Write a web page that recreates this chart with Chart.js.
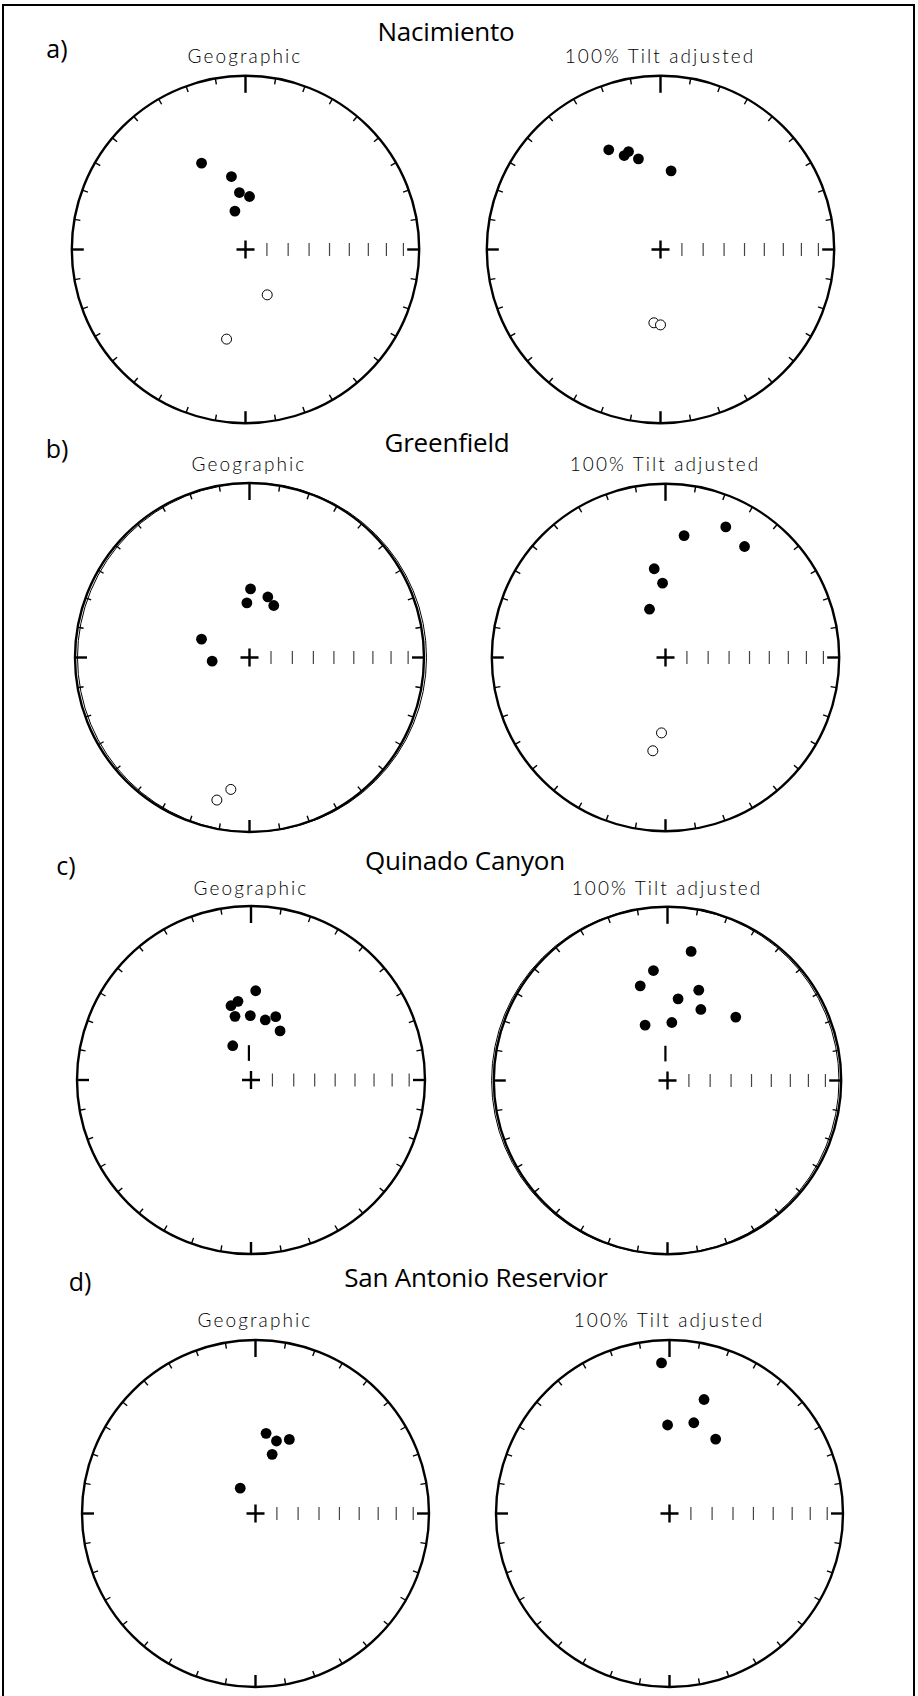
<!DOCTYPE html>
<html>
<head>
<meta charset="utf-8">
<script src="https://cdn.jsdelivr.net/npm/chart.js@4.4.1/dist/chart.umd.min.js"></script>
<style>
  html, body { margin: 0; padding: 0; background: #fff; }
  body { width: 918px; height: 1696px; position: relative; overflow: hidden; }
  #frame { position: absolute; left: 2px; top: 4px; width: 913px; height: 1720px;
           border: 2px solid #000; box-sizing: border-box; }
  .site { position: absolute; font-family: "Open Sans", sans-serif; font-size: 26px;
          color: #000; transform: translate(-50%, -50%); white-space: nowrap; line-height: 1;
          letter-spacing: -0.2px; }
  .tag  { position: absolute; font-family: "Open Sans", sans-serif; font-size: 25px;
          color: #000; transform: translate(-50%, -50%); line-height: 1; }
  .sub  { position: absolute; font-family: Lato, sans-serif; font-weight: 300; font-size: 19px;
          letter-spacing: 2.1px; color: #000; transform: translate(-50%, -50%);
          white-space: nowrap; line-height: 1; }
  .net  { position: absolute; }
</style>
</head>
<body>
<div id="frame"></div>
<div id="labels"></div>

<script>
// Equal-area projected site-mean directions (x = east, y = north, unit = primitive circle).
// "DOWN" = lower hemisphere (solid symbols), "UP" = upper hemisphere (open symbols).
const NAC_GEO_DOWN  = [[-0.253, 0.497], [-0.081, 0.420], [-0.035, 0.328], [0.023, 0.305], [-0.061, 0.221]];
const NAC_GEO_UP    = [[0.125, -0.261], [-0.109, -0.516]];
const NAC_TILT_DOWN = [[-0.298, 0.574], [-0.209, 0.541], [-0.184, 0.564], [-0.127, 0.522], [0.061, 0.453]];
const NAC_TILT_UP   = [[-0.038, -0.422], [0.000, -0.434]];

const GRE_GEO_DOWN  = [[0.006, 0.393], [-0.015, 0.313], [0.105, 0.347], [0.139, 0.298], [-0.275, 0.105], [-0.214, -0.021]];
const GRE_GEO_UP    = [[-0.107, -0.756], [-0.187, -0.817]];
const GRE_TILT_DOWN = [[0.107, 0.702], [0.347, 0.752], [0.455, 0.639], [-0.065, 0.511], [-0.017, 0.428], [-0.092, 0.278]];
const GRE_TILT_UP   = [[-0.023, -0.434], [-0.073, -0.537]];

const QUI_GEO_DOWN  = [[0.027, 0.513], [-0.075, 0.452], [-0.115, 0.427], [-0.092, 0.366], [-0.004, 0.370],
                       [0.082, 0.345], [0.142, 0.364], [0.167, 0.282], [-0.105, 0.197]];
const QUI_TILT_DOWN = [[0.136, 0.743], [-0.081, 0.633], [-0.157, 0.545], [0.180, 0.520], [0.061, 0.470],
                       [0.192, 0.409], [0.393, 0.365], [0.025, 0.334], [-0.129, 0.319]];

const SAN_GEO_DOWN  = [[0.061, 0.462], [0.121, 0.418], [0.195, 0.427], [0.096, 0.341], [-0.088, 0.146]];
const SAN_TILT_DOWN = [[-0.046, 0.868], [0.199, 0.657], [-0.011, 0.510], [0.140, 0.523], [0.266, 0.429]];

// Inclination graduations along the east radius, and declination ticks round the primitive
const INC_TICKS = [80, 70, 60, 50, 40, 30, 20, 10];
const DEC_TICKS = Array.from({ length: 36 }, (_, i) => i * 10);

// Text
const SITE_NAMES = ["Nacimiento", "Greenfield", "Quinado Canyon", "San Antonio Reservior"];
const PANEL_TAGS = ["a)", "b)", "c)", "d)"];
const NET_TITLES = ["Geographic", "100% Tilt adjusted"];

// Equal-area radius for an inclination (degrees)
function eqArea(inc) {
  return Math.SQRT2 * Math.sin((90 - Math.abs(inc)) / 2 * Math.PI / 180);
}

const stereonet = {
  id: 'stereonet',
  beforeDatasetsDraw(chart, args, opts) {
    const { ctx, scales: { x, y } } = chart;
    const cx = x.getPixelForValue(0), cy = y.getPixelForValue(0);
    const R = x.getPixelForValue(1) - cx;
    ctx.save();
    ctx.strokeStyle = '#000';
    ctx.lineCap = 'butt';

    // faint second outline where the primitive was traced twice
    if (opts.ghost) {
      ctx.lineWidth = 1;
      ctx.beginPath();
      ctx.arc(cx + opts.ghost, cy, R, 0, Math.PI * 2);
      ctx.stroke();
    }

    // primitive circle
    ctx.lineWidth = 2.4;
    ctx.beginPath();
    ctx.arc(cx, cy, R, 0, Math.PI * 2);
    ctx.stroke();

    // declination ticks
    DEC_TICKS.forEach(d => {
      const a = d * Math.PI / 180;
      const major = d % 90 === 0;
      const len = d === 0 ? 17 : (major ? 12 : 6);
      ctx.lineWidth = major ? 2.4 : 1.4;
      const sx = Math.sin(a), sy = -Math.cos(a);
      ctx.beginPath();
      ctx.moveTo(cx + sx * R, cy + sy * R);
      ctx.lineTo(cx + sx * (R - len), cy + sy * (R - len));
      ctx.stroke();
    });

    // inclination graduations
    ctx.lineWidth = 1.2;
    ctx.strokeStyle = '#444';
    INC_TICKS.forEach(inc => {
      const px = x.getPixelForValue(eqArea(inc));
      ctx.beginPath();
      ctx.moveTo(px, cy - 6.5);
      ctx.lineTo(px, cy + 6.5);
      ctx.stroke();
    });

    // centre cross
    ctx.strokeStyle = '#000';
    ctx.lineWidth = 2.4;
    ctx.beginPath();
    ctx.moveTo(cx - 9, cy); ctx.lineTo(cx + 9, cy);
    ctx.moveTo(cx, cy - 9); ctx.lineTo(cx, cy + 9);
    ctx.stroke();

    // short northward marker above the centre
    if (opts.marker) {
      const mx = x.getPixelForValue(opts.marker[0]);
      ctx.lineWidth = 2.2;
      ctx.beginPath();
      ctx.moveTo(mx, y.getPixelForValue(opts.marker[1]));
      ctx.lineTo(mx, y.getPixelForValue(opts.marker[2]));
      ctx.stroke();
    }
    ctx.restore();
  }
};

const toPts = arr => arr.map(([e, n]) => ({ x: e, y: n }));

function makeNet(cx, cy, R, down, up, extra) {
  const pad = 8;
  const size = Math.round(2 * R + 2 * pad);
  const cv = document.createElement('canvas');
  cv.className = 'net';
  cv.width = size; cv.height = size;
  cv.style.width = size + 'px'; cv.style.height = size + 'px';
  cv.style.left = (cx - size / 2) + 'px';
  cv.style.top = (cy - size / 2) + 'px';
  document.body.appendChild(cv);
  const datasets = [{
    data: toPts(down), pointRadius: 5.4, pointBackgroundColor: '#000',
    pointBorderColor: '#000', pointBorderWidth: 0, showLine: false, clip: false
  }];
  if (up && up.length) datasets.push({
    data: toPts(up), pointRadius: 5, pointBackgroundColor: '#fff',
    pointBorderColor: '#000', pointBorderWidth: 1, showLine: false, clip: false
  });
  new Chart(cv, {
    type: 'scatter',
    data: { datasets },
    options: {
      responsive: false, animation: false, devicePixelRatio: 1,
      layout: { padding: (size - 2 * R) / 2 },
      plugins: { legend: { display: false }, tooltip: { enabled: false }, stereonet: extra || {} },
      scales: {
        x: { type: 'linear', min: -1, max: 1, display: false },
        y: { type: 'linear', min: -1, max: 1, display: false }
      }
    },
    plugins: [stereonet]
  });
}

function addText(cls, txt, x, y) {
  const d = document.createElement('div');
  d.className = cls; d.textContent = txt;
  d.style.left = x + 'px'; d.style.top = y + 'px';
  document.getElementById('labels').appendChild(d);
}

// panel layout: [site title x,y], [tag x,y], subtitle y, [left net cx,cy,R], [right net cx,cy,R]
const ROWS = [
  { title: [446, 31],  tag: [57, 48],  subY: 55,   L: [245, 249, 173.7],  Rn: [660, 249, 173.7] },
  { title: [447, 442], tag: [57, 448], subY: 463,  L: [249, 657, 174.5],  Rn: [665, 657, 173.7] },
  { title: [465, 860], tag: [66, 865], subY: 887,  L: [251, 1080, 174],   Rn: [667, 1080, 173.7] },
  { title: [476, 1277], tag: [80, 1281], subY: 1319, L: [255, 1513, 173.5], Rn: [669, 1513, 173.5] }
];
const DATA = [
  [NAC_GEO_DOWN, NAC_GEO_UP, NAC_TILT_DOWN, NAC_TILT_UP],
  [GRE_GEO_DOWN, GRE_GEO_UP, GRE_TILT_DOWN, GRE_TILT_UP],
  [QUI_GEO_DOWN, [], QUI_TILT_DOWN, []],
  [SAN_GEO_DOWN, [], SAN_TILT_DOWN, []]
];
const EXTRA = [
  [{}, {}],
  [{ ghost: 2.5 }, {}],
  [{ marker: [-0.012, 0.11, 0.2] }, { marker: [-0.012, 0.11, 0.2], ghost: -2.2 }],
  [{}, {}]
];

ROWS.forEach((r, i) => {
  addText('site', SITE_NAMES[i], r.title[0], r.title[1]);
  addText('tag', PANEL_TAGS[i], r.tag[0], r.tag[1]);
  addText('sub', NET_TITLES[0], r.L[0], r.subY);
  addText('sub', NET_TITLES[1], r.Rn[0], r.subY);
  const [gd, gu, td, tu] = DATA[i];
  makeNet(r.L[0], r.L[1], r.L[2], gd, gu, EXTRA[i][0]);
  makeNet(r.Rn[0], r.Rn[1], r.Rn[2], td, tu, EXTRA[i][1]);
});
</script>
</body>
</html>
